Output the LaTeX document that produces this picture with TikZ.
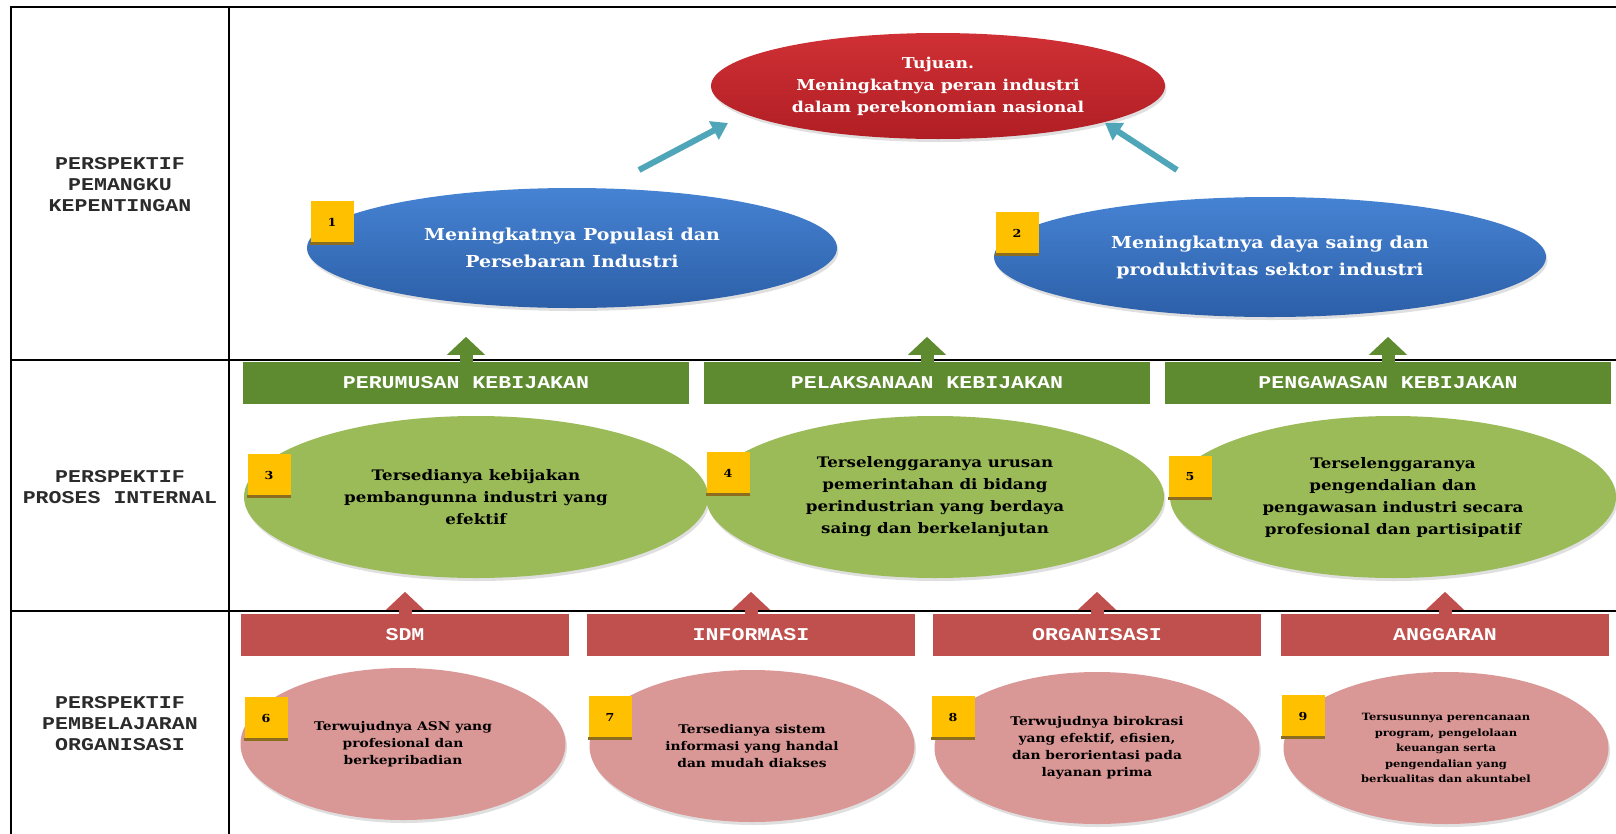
\documentclass[tikz,border=0pt]{standalone}
\usepackage{fontspec}
\setmainfont{DejaVu Serif}
\newfontfamily\bodyfont[FakeStretch=1.15]{DejaVu Serif}
\newfontfamily\capfont[FakeStretch=1.2]{Liberation Mono}
\usetikzlibrary{shapes.geometric,arrows.meta,shadows}
\definecolor{goalred}{HTML}{C3262B}
\definecolor{goaltop}{HTML}{CF3035}
\definecolor{goalbot}{HTML}{B01E24}
\definecolor{bluetop}{HTML}{4683D3}
\definecolor{bluebot}{HTML}{2C5FA8}
\definecolor{bargreen}{HTML}{5F8B30}
\definecolor{ellgreen}{HTML}{9BBB59}
\definecolor{barred}{HTML}{C0504D}
\definecolor{ellpink}{HTML}{D99795}
\definecolor{numyellow}{HTML}{FFC000}
\definecolor{numedge}{HTML}{8C6D1F}
\definecolor{tealarrow}{HTML}{4FA6B8}
\definecolor{labelgray}{HTML}{2B2B2B}

\begin{document}
\begin{tikzpicture}[x=1pt,y=-1pt,
  soft/.style={drop shadow={opacity=0.25,shadow xshift=1.5pt,shadow yshift=-3pt}},
  goal/.style={ellipse,top color=goaltop,bottom color=goalbot,text=white,
    align=center,inner sep=0pt,minimum width=454pt,minimum height=106pt,soft,
    font=\bodyfont\bfseries\fontsize{15}{22}\selectfont},
  stake/.style={ellipse,top color=bluetop,bottom color=bluebot,text=white,
    align=center,inner sep=0pt,minimum width=530pt,minimum height=120pt,soft,
    font=\bodyfont\bfseries\fontsize{16.5}{27}\selectfont},
  procbar/.style={rectangle,fill=bargreen,text=white,inner sep=0pt,
    minimum width=446pt,minimum height=42pt,
    font=\capfont\bfseries\fontsize{18}{20}\selectfont},
  proc/.style={ellipse,fill=ellgreen,align=center,inner sep=0pt,soft,
    minimum width=452pt,minimum height=162pt,
    font=\bodyfont\bfseries\fontsize{14.5}{22}\selectfont},
  learnbar/.style={rectangle,fill=barred,text=white,inner sep=0pt,
    minimum width=328pt,minimum height=42pt,
    font=\capfont\bfseries\fontsize{18}{20}\selectfont},
  learn/.style={ellipse,fill=ellpink,align=center,inner sep=0pt,soft,
    minimum width=325pt,minimum height=152pt,
    font=\bodyfont\bfseries\fontsize{12}{17}\selectfont},
  numbox/.style={rectangle,fill=numyellow,inner sep=0pt,
    minimum width=43pt,minimum height=42pt,
    font=\bodyfont\bfseries\fontsize{11}{11}\selectfont},
  numedge/.style={draw=numedge,line width=3pt},
  rowlabel/.style={text=labelgray,align=center,
    font=\capfont\bfseries\fontsize{18}{21}\selectfont},
  greenup/.style={draw=bargreen,line width=13pt,-{Triangle[width=37pt,length=18pt]}},
  redup/.style={draw=barred,line width=13pt,-{Triangle[width=37pt,length=18pt]}},
  tealup/.style={draw=tealarrow,line width=6pt,-{Triangle[width=20pt,length=16pt]}},
  grid/.style={draw=black,line width=2pt}]

  \useasboundingbox (0,0) rectangle (1616,833);
  \clip (0,0) rectangle (1616,833);

  % table frame
  \draw[grid] (11,7) rectangle (1630,850);
  \draw[grid] (229,7) -- (229,850);
  \draw[grid] (11,360) -- (1630,360);
  \draw[grid] (11,611) -- (1630,611);

  % row labels
  \node[rowlabel] (lab1) at (120,185) {PERSPEKTIF\\PEMANGKU\\KEPENTINGAN};
  \node[rowlabel] (lab2) at (120,487) {PERSPEKTIF\\PROSES INTERNAL};
  \node[rowlabel] (lab3) at (120,724) {PERSPEKTIF\\PEMBELAJARAN\\ORGANISASI};

  % stakeholder
  \node[goal] (goal) at (938,86) {Tujuan.\\Meningkatnya peran industri\\dalam perekonomian nasional};
  \node[stake] (blue1) at (572,248) {Meningkatnya Populasi dan\\Persebaran Industri};
  \node[stake,minimum width=552pt] (blue2) at (1270,257) {Meningkatnya daya saing dan\\produktivitas sektor industri};
  \coordinate (t1a) at (639,170);
  \coordinate (t1b) at (728,123);
  \coordinate (t2a) at (1177,170);
  \coordinate (t2b) at (1105,123);
  \draw[tealup] (t1a) -- (t1b);
  \draw[tealup] (t2a) -- (t2b);

  % internal process
  \node[procbar] (pb1) at (466,383) {PERUMUSAN KEBIJAKAN};
  \node[procbar] (pb2) at (927,383) {PELAKSANAAN KEBIJAKAN};
  \node[procbar] (pb3) at (1388,383) {PENGAWASAN KEBIJAKAN};
  \draw[greenup] (pb1.north) -- ++(0,-25);
  \draw[greenup] (pb2.north) -- ++(0,-25);
  \draw[greenup] (pb3.north) -- ++(0,-25);
  \node[proc,minimum width=464pt] (p3) at (476,497) {Tersedianya kebijakan\\pembangunna industri yang\\efektif};
  \node[proc,minimum width=458pt] (p4) at (935,497) {Terselenggaranya urusan\\pemerintahan di bidang\\perindustrian yang berdaya\\saing dan berkelanjutan};
  \node[proc,minimum width=446pt] (p5) at (1393,497) {Terselenggaranya\\pengendalian dan\\pengawasan industri secara\\profesional dan partisipatif};

  % learning
  \node[learnbar] (lb1) at (405,635) {SDM};
  \node[learnbar] (lb2) at (751,635) {INFORMASI};
  \node[learnbar] (lb3) at (1097,635) {ORGANISASI};
  \node[learnbar] (lb4) at (1445,635) {ANGGARAN};
  \draw[redup] (lb1.north) -- ++(0,-22);
  \draw[redup] (lb2.north) -- ++(0,-22);
  \draw[redup] (lb3.north) -- ++(0,-22);
  \draw[redup] (lb4.north) -- ++(0,-22);
  \node[learn] (l6) at (403,744) {Terwujudnya ASN yang\\profesional dan\\berkepribadian};
  \node[learn] (l7) at (752,746) {Tersedianya sistem\\informasi yang handal\\dan mudah diakses};
  \node[learn] (l8) at (1097,748) {Terwujudnya birokrasi\\yang efektif, efisien,\\dan berorientasi pada\\layanan prima};
  \node[learn,font=\bodyfont\bfseries\fontsize{10}{15.5}\selectfont] (l9) at (1446,748) {Tersusunnya perencanaan\\program, pengelolaan\\keuangan serta\\pengendalian yang\\berkualitas dan akuntabel};

  % numbers
  \node[numbox] (n1) at (332,222) {1};
  \node[numbox] (n2) at (1017,233) {2};
  \node[numbox] (n3) at (269,475) {3};
  \node[numbox] (n4) at (728,473) {4};
  \node[numbox] (n5) at (1190,477) {5};
  \node[numbox] (n6) at (266,718) {6};
  \node[numbox] (n7) at (610,717) {7};
  \node[numbox] (n8) at (953,717) {8};
  \node[numbox] (n9) at (1303,716) {9};
  \foreach \n in {n1,n2,n3,n4,n5,n6,n7,n8,n9}
    \draw[numedge] (\n.south west) -- (\n.south east);
\end{tikzpicture}
\end{document}
